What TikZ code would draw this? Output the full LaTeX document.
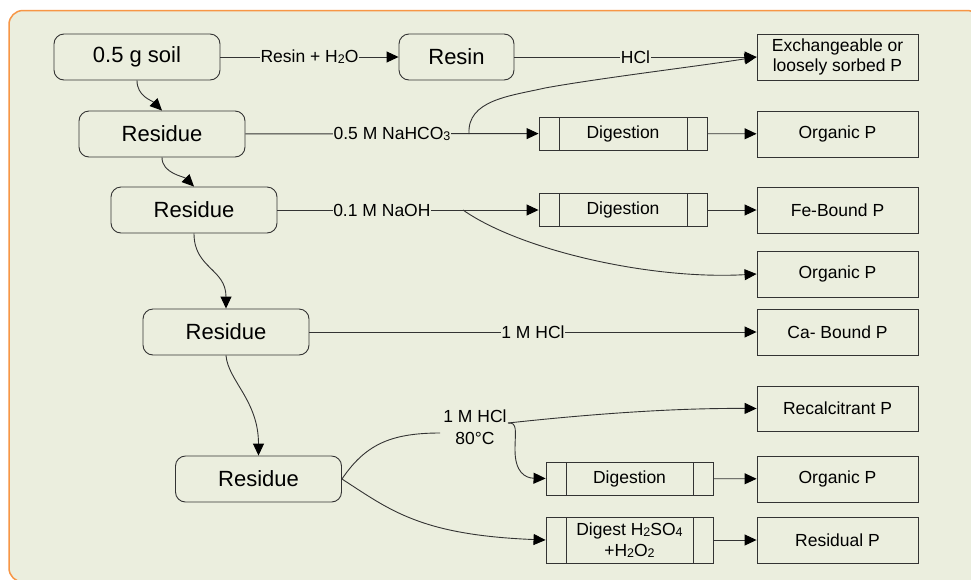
\documentclass[tikz,border=0pt]{standalone}
\usepackage{fontspec}
\setmainfont{Liberation Sans}
\usetikzlibrary{arrows.meta}
\definecolor{bgc}{HTML}{EBEEDE}
\definecolor{frm}{HTML}{F79646}
\definecolor{ln}{HTML}{333333}
\newcommand\sbs[1]{\raisebox{-1pt}{\fontsize{12.5}{12.5}\selectfont #1}}
\tikzset{
  big/.style={draw=ln, line width=0.9pt, rounded corners=10pt, minimum width=166pt, minimum height=46pt, inner sep=0pt, font=\fontsize{22}{26}\selectfont},
  res/.style={draw=ln, line width=0.9pt, minimum width=161pt, minimum height=46pt, inner sep=0pt, align=center, font=\fontsize{17.5}{20}\selectfont},
  proc/.style={draw=ln, line width=0.9pt, minimum width=168pt, minimum height=33pt, inner sep=0pt, align=center, font=\fontsize{17.5}{21}\selectfont,
    path picture={
      \draw[ln, line width=0.9pt] ([xshift=20pt]path picture bounding box.north west) -- ([xshift=20pt]path picture bounding box.south west);
      \draw[ln, line width=0.9pt] ([xshift=-20pt]path picture bounding box.north east) -- ([xshift=-20pt]path picture bounding box.south east);
    }},
  lbl/.style={fill=bgc, inner sep=0.6pt, font=\fontsize{17.5}{22}\selectfont},
  arr/.style={draw=ln, line width=0.9pt, -{Triangle[length=12pt,width=11pt,fill=black,color=black]}},
  con/.style={draw=ln, line width=0.9pt},
}
\begin{document}
\begin{tikzpicture}[x=1pt, y=-1pt]
\useasboundingbox (0,0) rectangle (971,579);
\fill[white] (0,0) rectangle (971,579);
\draw[frm, fill=bgc, line width=1.5pt, rounded corners=14pt] (9,10.5) rectangle (981,582);

% nodes
\node[big] (soil) at (137,57) {0.5 g soil};
\node[big, minimum width=115pt] (resin) at (456.5,57) {Resin};
\node[res] (exch) at (837.5,57) {Exchangeable or\\loosely sorbed P};

\node[big] (res1) at (162,134) {Residue};
\node[proc] (dig1) at (623,133.5) {Digestion};
\node[res] (org1) at (837.5,134) {Organic P};

\node[big] (res2) at (194,210) {Residue};
\node[proc] (dig2) at (623,210) {Digestion};
\node[res] (fe) at (837.5,210) {Fe-Bound P};
\node[res] (org2) at (837.5,274) {Organic P};

\node[big] (res3) at (226,332) {Residue};
\node[res] (ca) at (837.5,332) {Ca- Bound P};

\node[big] (res4) at (258.5,479) {Residue};
\node[lbl, fill=none, align=center] (h80) at (475,427) {1 M HCl\\80°C};
\node[res, minimum height=45pt] (rec) at (837.5,408.5) {Recalcitrant P};
\node[proc, minimum width=167pt] (dig3) at (629.5,478.5) {Digestion};
\node[res] (org3) at (837.5,479) {Organic P};
\node[proc, minimum width=167pt, minimum height=46pt] (dgs) at (629.5,540) {Digest H\sbs{2}SO\sbs{4}\\+H\sbs{2}O\sbs{2}};
\node[res] (resid) at (837.5,540) {Residual P};

% branch points
\coordinate (b1) at (469,134);
\coordinate (b2) at (463,210);
\coordinate (b4in) at (440,433);
\coordinate (b4) at (508,423);

% connectors
\draw[arr] (soil) -- node[lbl]{Resin + H\sbs{2}O} (resin);
\draw[arr] (resin) -- node[lbl]{HCl} (exch);
\draw[arr] (res1) -- node[lbl]{0.5 M NaHCO\sbs{3}} (dig1);
\draw[arr] (b1) .. controls (467,100) and (510,96) .. (545,88) .. controls (600,78) and (700,66) .. (exch.west);
\draw[arr] (dig1) -- (org1);

\draw[arr] (res2) -- node[lbl, pos=0.4]{0.1 M NaOH} (dig2);
\draw[arr] (b2) .. controls (520,250) and (650,280) .. (org2.west);
\draw[arr] (dig2) -- (fe);

\draw[arr] (res3) -- node[lbl]{1 M HCl} (ca);

\draw[con] (res4.east) .. controls (365,445) and (390,433) .. (b4in);
\draw[arr] (b4) .. controls (600,413) and (680,408) .. (rec.west);
\draw[arr] (b4) .. controls (518,422) and (515,432) .. (515,450) .. controls (515,472) and (525,478) .. (dig3.west);
\draw[arr] (res4.east) .. controls (390,510) and (420,535) .. (dgs.west);
\draw[arr] (dig3) -- (org3);
\draw[arr] (dgs) -- (resid);

% vertical residue chain
\draw[arr] (soil.south) .. controls +(0,16) and +(-10,-10) .. (res1.north);
\draw[arr] (res1.south) .. controls +(0,16) and +(-10,-10) .. (res2.north);
\draw[arr] (res2.south) .. controls +(0,35) and +(0,-40) .. (res3.north);
\draw[arr] (res3.south) .. controls +(2,25) and +(0,-55) .. (res4.north);
\end{tikzpicture}
\end{document}
